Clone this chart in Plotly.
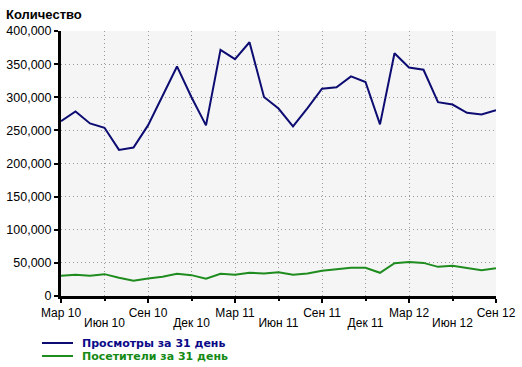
import plotly.graph_objects as go

months = ["Мар 10", "Апр 10", "Май 10", "Июн 10", "Июл 10", "Авг 10", "Сен 10", "Окт 10", "Ноя 10", "Дек 10",
          "Янв 11", "Фев 11", "Мар 11", "Апр 11", "Май 11", "Июн 11", "Июл 11", "Авг 11", "Сен 11", "Окт 11",
          "Ноя 11", "Дек 11", "Янв 12", "Фев 12", "Мар 12", "Апр 12", "Май 12", "Июн 12", "Июл 12", "Авг 12",
          "Сен 12"]

views = [264000, 278500, 260500, 254000, 220500, 224000, 257500, 303000, 346500, 300000,
         257500, 371500, 357500, 383000, 300500, 283000, 256000, 283500, 313000, 315000,
         331500, 323000, 259000, 366500, 345000, 341500, 292500, 289000, 276500, 274000,
         280500]

visitors = [30500, 32000, 30500, 33000, 27500, 23000, 26500, 29000, 33500, 31500,
            26000, 33500, 32000, 35000, 34000, 36000, 32000, 34000, 38000, 40500,
            42500, 42500, 35000, 49500, 51500, 50000, 44000, 45500, 42500, 39000,
            42000]

series_names = ["Просмотры за 31 день", "Посетители за 31 день"]
tick_months = ["Мар 10", "Июн 10", "Сен 10", "Дек 10", "Мар 11", "Июн 11", "Сен 11", "Дек 11", "Мар 12", "Июн 12", "Сен 12"]
y_ticks = [0, 50000, 100000, 150000, 200000, 250000, 300000, 350000, 400000]
y_title = "Количество"

x = list(range(len(months)))
row1 = tick_months[0::2]
row2 = tick_months[1::2]

NAVY = "#0c0c72"
GREEN = "#1e8c1e"
LEG_COLORS = ["#0a0a88", "#158a15"]
LINE_COLORS = [NAVY, GREEN]
FONT = "Liberation Sans, Arial, sans-serif"
LEG_FONT = "DejaVu Sans, Verdana, sans-serif"
GRID = dict(showgrid=True, gridcolor="#9a9a9a", griddash="1px,3px", gridwidth=1)

fig = go.Figure()
fig.add_trace(go.Scatter(x=x, y=views, mode="lines", line=dict(color=NAVY, width=2),
                         name=series_names[0], cliponaxis=False, showlegend=False))
fig.add_trace(go.Scatter(x=x, y=visitors, mode="lines", line=dict(color=GREEN, width=2),
                         name=series_names[1], cliponaxis=False, showlegend=False))
# invisible trace on the second x axis so it renders
fig.add_trace(go.Scatter(x=[0], y=[0], xaxis="x2", mode="markers", marker=dict(opacity=0),
                         showlegend=False, hoverinfo="skip"))

W_PLOT = 435.0
H_PLOT = 265.0
annotations = [dict(text="<b>" + y_title + "</b>", xref="paper", yref="paper",
                    x=(4 - 61) / W_PLOT, y=(296 - 14) / H_PLOT,
                    xanchor="left", yanchor="middle", showarrow=False,
                    font=dict(size=13, family=FONT, color="black"))]
shapes = []
for i, (nm, lc, tc) in enumerate(zip(series_names, LINE_COLORS, LEG_COLORS)):
    yc = 343 + 13 * i
    yp = (296 - yc) / H_PLOT
    shapes.append(dict(type="line", xref="paper", yref="paper",
                       x0=(42 - 61) / W_PLOT, x1=(73 - 61) / W_PLOT, y0=yp, y1=yp,
                       line=dict(color=lc, width=2)))
    annotations.append(dict(text="<b>" + nm + "</b>", xref="paper", yref="paper",
                            x=(80 - 61) / W_PLOT, y=yp, xanchor="left", yanchor="middle",
                            showarrow=False, font=dict(size=11, family=LEG_FONT, color=tc)))

fig.update_layout(
    width=522, height=367,
    margin=dict(l=61, r=26, t=31, b=71),
    paper_bgcolor="white",
    plot_bgcolor="#f5f5f5",
    font=dict(family=FONT, size=12, color="black"),
    showlegend=False,
    annotations=annotations,
    shapes=shapes,
    xaxis=dict(range=[0, 30], tickvals=[months.index(m) for m in row1], ticktext=row1,
               showline=True, linecolor="black", linewidth=3,
               ticks="outside", ticklen=4, tickwidth=2, tickcolor="black",
               zeroline=False, tickangle=0, automargin=False, **GRID),
    xaxis2=dict(overlaying="x", anchor="y", side="bottom", range=[0, 30],
                tickvals=[months.index(m) for m in row2], ticktext=row2,
                showline=False, zeroline=False,
                ticks="outside", ticklen=4, tickwidth=2, tickcolor="black",
                tickangle=0, automargin=False, ticklabelstandoff=12, **GRID),
    yaxis=dict(range=[0, 400000], tickvals=y_ticks, tickformat=",d",
               showline=True, linecolor="black", linewidth=3,
               ticks="outside", ticklen=4, tickwidth=2, tickcolor="black",
               zeroline=False, automargin=False, tickfont=dict(size=12.5), **GRID),
)

fig.write_html("out.html", config={"displayModeBar": False},
               post_script="document.body.style.margin='0';document.body.style.padding='0';")
